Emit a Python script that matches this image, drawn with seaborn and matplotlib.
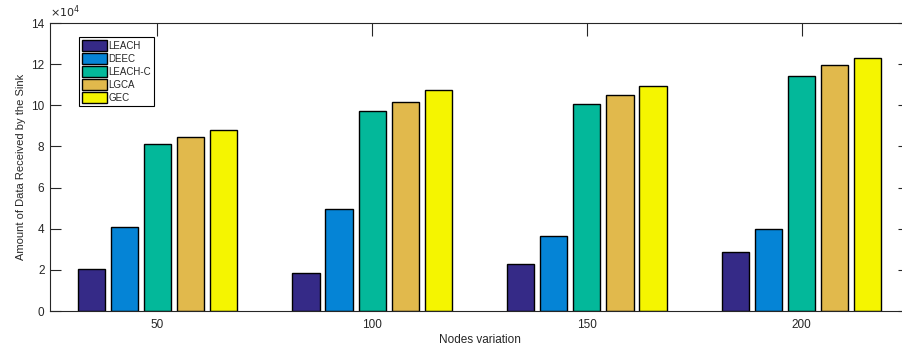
import matplotlib
matplotlib.use("Agg")
import matplotlib.pyplot as plt
import seaborn as sns
import pandas as pd

# Node counts on the x axis and the protocols compared
nodes = ["50", "100", "150", "200"]
protocols = ["LEACH", "DEEC", "LEACH-C", "LGCA", "GEC"]

# Amount of data received by the sink for each protocol (per node count)
leach = [20300, 18500, 22800, 28600]
deec = [40600, 49400, 36700, 39800]
leach_c = [81300, 97200, 100600, 114100]
lgca = [84800, 101400, 105100, 119600]
gec = [88000, 107200, 109300, 122800]

colors = ["#352A87", "#0584D6", "#03B89A", "#E1B94C", "#F5F500"]
yticks = [0, 20000, 40000, 60000, 80000, 100000, 120000, 140000]

series = [leach, deec, leach_c, lgca, gec]
df = pd.DataFrame({
    "nodes": [n for s in series for n in nodes],
    "protocol": [p for p, s in zip(protocols, series) for _ in s],
    "value": [v for s in series for v in s],
})

sns.set_style("white")
plt.rcParams["font.family"] = ["Liberation Sans", "DejaVu Sans"]

fig = plt.figure(figsize=(9.03, 3.49), dpi=100)
ax = fig.add_axes([50 / 903, 38 / 349, 859 / 903, 288 / 349])

sns.barplot(data=df, x="nodes", y="value", hue="protocol", order=nodes,
            hue_order=protocols, palette=colors, width=0.77, gap=0.18,
            edgecolor="black", linewidth=1.0, saturation=1, ax=ax,
            errorbar=None)

axis_col = "#262626"
ax.set_xlim(-0.5, 3.5)
ax.set_ylim(0, 140000)
ax.set_yticks(yticks)
ax.set_yticklabels([f"{int(t / 1e4)}" for t in yticks])
ax.text(0.0, 1.012, r"$\times10^4$", transform=ax.transAxes, fontsize=8,
        color=axis_col, ha="left", va="bottom")

for sp in ax.spines.values():
    sp.set_visible(True)
    sp.set_color(axis_col)
    sp.set_linewidth(0.8)

ax.tick_params(axis="both", direction="in", length=8, width=0.8,
               colors=axis_col, labelsize=8.5, top=True, right=True,
               left=True, bottom=True, pad=4)
ax.tick_params(axis="x", length=9, pad=6)

ax.set_xlabel("Nodes variation", fontsize=8.5, color=axis_col, labelpad=2)
ax.set_ylabel("Amount of Data Received by the Sink", fontsize=8,
              color=axis_col, labelpad=4)

leg = ax.legend(loc="upper left", bbox_to_anchor=(0.034, 0.951),
                fontsize=7, frameon=True, fancybox=False, framealpha=1,
                edgecolor="black", handlelength=2.6, handleheight=1.3,
                handletextpad=0.1, labelspacing=0.25, borderpad=0.3,
                borderaxespad=0, title=None)
leg.get_frame().set_linewidth(0.8)

fig.savefig("out.png", dpi=100)
